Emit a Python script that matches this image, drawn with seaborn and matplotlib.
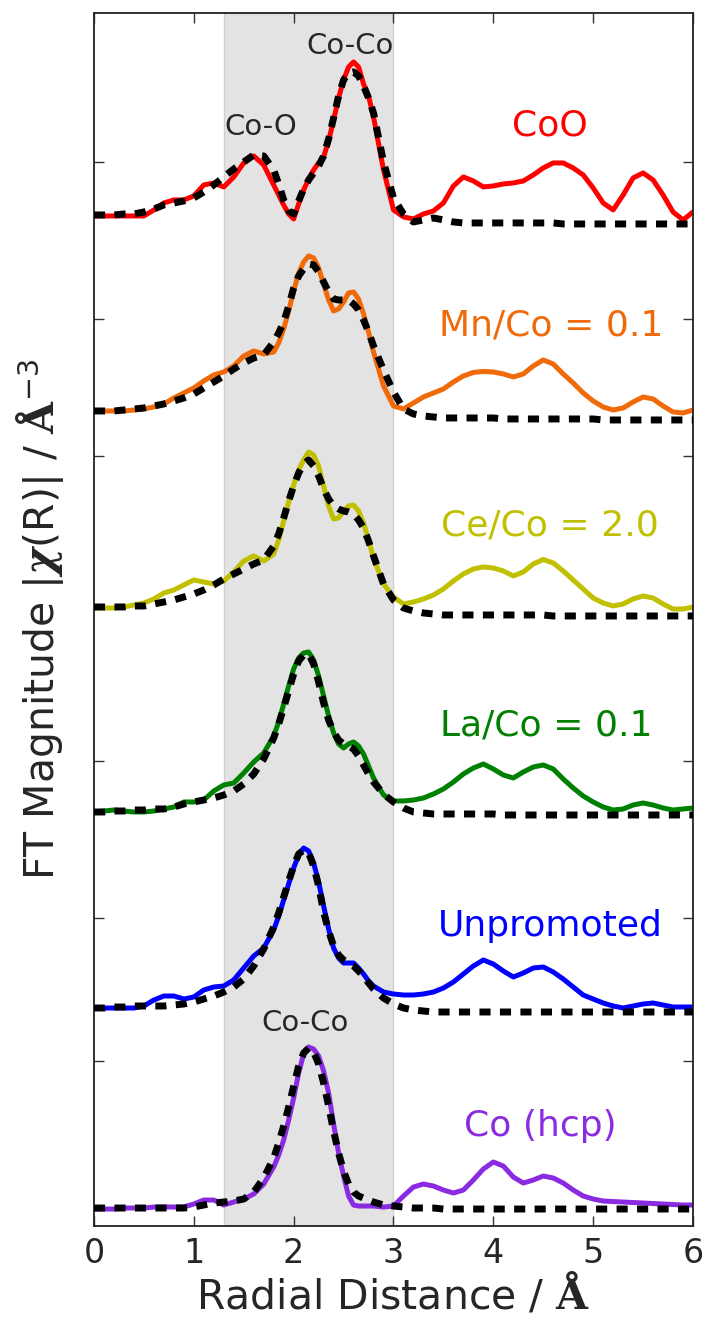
import numpy as np
import pandas as pd
import matplotlib
matplotlib.use("Agg")
import matplotlib.pyplot as plt
import seaborn as sns

# Radial distance grid (Å): coarse samples every 0.1 Å ...
r = np.round(np.arange(0, 61) * 0.1, 1)
# ... plus extra samples across the main shell peaks
r_mid = [1.85, 1.95, 2.05, 2.15, 2.25, 2.35, 2.45, 2.55, 2.65, 2.75]

# |chi(R)| magnitudes, 61 coarse samples (0.0 ... 6.0 Å) + 10 peak samples
coo = [0.10, 0.10, 0.10, 0.10, 0.10, 0.10,
       0.16, 0.23, 0.26, 0.26, 0.30,
       0.41, 0.43, 0.39, 0.49, 0.63,
       0.70, 0.61, 0.41, 0.21, 0.07,
       0.36, 0.56, 0.69, 1.06, 1.46,
       1.64, 1.42, 1.09, 0.56, 0.16,
       0.09, 0.07, 0.12, 0.15, 0.23,
       0.40, 0.49, 0.45, 0.39, 0.40,
       0.42, 0.43, 0.45, 0.51, 0.58,
       0.63, 0.63, 0.58, 0.51, 0.38,
       0.23, 0.16, 0.31, 0.48, 0.53,
       0.46, 0.31, 0.14, 0.06, 0.14]
coo_mid = [0.31, 0.12, 0.22, 0.47, 0.63, 0.85, 1.28, 1.59, 1.59, 1.30]
coo_fit = [0.11, 0.11, 0.11, 0.12, 0.12, 0.14,
           0.17, 0.21, 0.23, 0.25, 0.28,
           0.34, 0.41, 0.49, 0.57, 0.64,
           0.71, 0.70, 0.56, 0.26, 0.12,
           0.37, 0.53, 0.70, 1.08, 1.46,
           1.54, 1.40, 1.13, 0.64, 0.28,
           0.12, 0.04, 0.06, 0.08, 0.06,
           0.04, 0.03, 0.03, 0.03, 0.03,
           0.03, 0.03, 0.03, 0.03, 0.03,
           0.03, 0.02, 0.02, 0.02, 0.02,
           0.02, 0.02, 0.02, 0.02, 0.02,
           0.02, 0.02, 0.02, 0.02, 0.02]
coo_fit_mid = [0.42, 0.15, 0.25, 0.46, 0.60, 0.87, 1.30, 1.53, 1.50, 1.28]

mn = [0.15, 0.15, 0.15, 0.15, 0.16, 0.17,
      0.19, 0.22, 0.28, 0.33, 0.38,
      0.45, 0.51, 0.54, 0.60, 0.70,
      0.75, 0.72, 0.74, 0.97, 1.35,
      1.64, 1.68, 1.42, 1.15, 1.24,
      1.34, 1.12, 0.74, 0.40, 0.20,
      0.17, 0.23, 0.29, 0.33, 0.37,
      0.44, 0.50, 0.535, 0.545, 0.54,
      0.52, 0.49, 0.52, 0.60, 0.66,
      0.62, 0.52, 0.43, 0.33, 0.25,
      0.19, 0.16, 0.18, 0.24, 0.29,
      0.27, 0.20, 0.14, 0.13, 0.16]
mn_mid = [0.83, 1.15, 1.53, 1.70, 1.58, 1.26, 1.17, 1.33, 1.27, 0.94]
mn_fit = [0.15, 0.15, 0.15, 0.16, 0.17, 0.18,
          0.20, 0.22, 0.25, 0.28, 0.32,
          0.38, 0.44, 0.50, 0.57, 0.63,
          0.68, 0.71, 0.84, 1.04, 1.38,
          1.57, 1.61, 1.44, 1.27, 1.26,
          1.22, 1.06, 0.80, 0.56, 0.34,
          0.17, 0.12, 0.10, 0.09, 0.08,
          0.08, 0.08, 0.08, 0.08, 0.08,
          0.07, 0.07, 0.07, 0.07, 0.07,
          0.07, 0.07, 0.07, 0.07, 0.07,
          0.06, 0.06, 0.06, 0.06, 0.06,
          0.06, 0.06, 0.06, 0.06, 0.06]
mn_fit_mid = [0.93, 1.20, 1.50, 1.62, 1.54, 1.34, 1.26, 1.26, 1.16, 0.94]

ce = [0.18, 0.18, 0.18, 0.19, 0.21, 0.23,
      0.27, 0.33, 0.36, 0.41, 0.46,
      0.44, 0.42, 0.45, 0.54, 0.65,
      0.70, 0.65, 0.72, 1.05, 1.41,
      1.66, 1.71, 1.40, 1.07, 1.15,
      1.21, 1.03, 0.68, 0.42, 0.29,
      0.22, 0.24, 0.27, 0.31, 0.37,
      0.45, 0.52, 0.57, 0.59, 0.58,
      0.55, 0.50, 0.54, 0.62, 0.665,
      0.63, 0.55, 0.46, 0.37, 0.28,
      0.23, 0.20, 0.22, 0.27, 0.30,
      0.28, 0.22, 0.17, 0.17, 0.19]
ce_mid = [0.86, 1.24, 1.56, 1.74, 1.60, 1.20, 1.08, 1.20, 1.15, 0.86]
ce_fit = [0.19, 0.19, 0.19, 0.19, 0.20, 0.20,
          0.22, 0.24, 0.26, 0.29, 0.32,
          0.36, 0.41, 0.47, 0.52, 0.57,
          0.62, 0.66, 0.80, 1.08, 1.40,
          1.62, 1.60, 1.37, 1.20, 1.15,
          1.12, 0.98, 0.70, 0.42, 0.26,
          0.18, 0.15, 0.13, 0.12, 0.11,
          0.11, 0.11, 0.11, 0.11, 0.11,
          0.11, 0.11, 0.11, 0.11, 0.11,
          0.10, 0.10, 0.10, 0.10, 0.10,
          0.10, 0.10, 0.10, 0.10, 0.10,
          0.10, 0.10, 0.10, 0.10, 0.10]
ce_fit_mid = [0.92, 1.25, 1.53, 1.66, 1.50, 1.27, 1.17, 1.14, 1.06, 0.85]

la = [0.14, 0.15, 0.16, 0.15, 0.14, 0.14,
      0.15, 0.17, 0.19, 0.24, 0.24,
      0.26, 0.35, 0.41, 0.43, 0.53,
      0.64, 0.73, 0.90, 1.22, 1.57,
      1.73, 1.66, 1.30, 0.93, 0.78,
      0.84, 0.72, 0.48, 0.31, 0.25,
      0.25, 0.26, 0.28, 0.32, 0.37,
      0.44, 0.52, 0.58, 0.62, 0.57,
      0.51, 0.48, 0.54, 0.59, 0.61,
      0.57, 0.47, 0.38, 0.30, 0.24,
      0.19, 0.16, 0.17, 0.21, 0.23,
      0.21, 0.18, 0.16, 0.17, 0.18]
la_mid = [1.04, 1.40, 1.68, 1.74, 1.50, 1.10, 0.82, 0.82, 0.80, 0.60]
la_fit = [0.14, 0.14, 0.15, 0.15, 0.16, 0.16,
          0.17, 0.17, 0.19, 0.22, 0.24,
          0.26, 0.28, 0.31, 0.35, 0.42,
          0.52, 0.67, 0.88, 1.18, 1.52,
          1.71, 1.62, 1.23, 0.94, 0.82,
          0.77, 0.61, 0.44, 0.32, 0.24,
          0.18, 0.14, 0.13, 0.12, 0.12,
          0.12, 0.12, 0.12, 0.12, 0.12,
          0.11, 0.11, 0.11, 0.11, 0.11,
          0.11, 0.11, 0.11, 0.11, 0.11,
          0.11, 0.11, 0.11, 0.11, 0.11,
          0.11, 0.11, 0.11, 0.11, 0.11]
la_fit_mid = [1.02, 1.35, 1.65, 1.72, 1.44, 1.06, 0.86, 0.80, 0.70, 0.52]

unp = [0.18, 0.18, 0.18, 0.18, 0.18, 0.20,
       0.26, 0.30, 0.30, 0.27, 0.29,
       0.36, 0.39, 0.40, 0.46, 0.58,
       0.70, 0.78, 0.96, 1.26, 1.58,
       1.78, 1.63, 1.20, 0.78, 0.63,
       0.63, 0.52, 0.40, 0.34, 0.32,
       0.31, 0.31, 0.32, 0.34, 0.38,
       0.44, 0.52, 0.60, 0.66, 0.62,
       0.55, 0.49, 0.53, 0.58, 0.59,
       0.54, 0.47, 0.39, 0.31, 0.27,
       0.23, 0.20, 0.18, 0.20, 0.22,
       0.23, 0.21, 0.19, 0.19, 0.19]
unp_mid = [1.10, 1.42, 1.71, 1.75, 1.44, 0.97, 0.68, 0.63, 0.58, 0.45]
unp_fit = [0.18, 0.18, 0.19, 0.19, 0.20, 0.20,
           0.20, 0.20, 0.21, 0.22, 0.24,
           0.27, 0.30, 0.34, 0.39, 0.47,
           0.60, 0.77, 0.99, 1.29, 1.60,
           1.76, 1.60, 1.14, 0.80, 0.66,
           0.60, 0.50, 0.37, 0.28, 0.22,
           0.18, 0.16, 0.15, 0.14, 0.14,
           0.14, 0.14, 0.14, 0.14, 0.14,
           0.14, 0.14, 0.14, 0.14, 0.14,
           0.14, 0.14, 0.14, 0.14, 0.14,
           0.14, 0.14, 0.14, 0.14, 0.14,
           0.14, 0.14, 0.14, 0.14, 0.14]
unp_fit_mid = [1.13, 1.45, 1.72, 1.73, 1.40, 0.95, 0.71, 0.63, 0.55, 0.43]

hcp = [0.17, 0.17, 0.17, 0.18, 0.18, 0.18,
       0.19, 0.19, 0.19, 0.19, 0.22,
       0.26, 0.26, 0.21, 0.24, 0.27,
       0.32, 0.42, 0.59, 0.86, 1.28,
       1.72, 1.77, 1.55, 1.02, 0.50,
       0.21, 0.20, 0.20, 0.19, 0.20,
       0.30, 0.39, 0.42, 0.40, 0.36,
       0.33, 0.36, 0.46, 0.57, 0.64,
       0.60, 0.49, 0.43, 0.46, 0.50,
       0.48, 0.43, 0.36, 0.30, 0.27,
       0.25, 0.245, 0.24, 0.235, 0.23,
       0.225, 0.22, 0.215, 0.21, 0.21]
hcp_mid = [0.71, 1.06, 1.53, 1.79, 1.70, 1.33, 0.73, 0.30, 0.20, 0.20]
hcp_fit = [0.18, 0.18, 0.18, 0.18, 0.18, 0.18,
           0.18, 0.18, 0.18, 0.18, 0.19,
           0.21, 0.23, 0.24, 0.25, 0.27,
           0.34, 0.48, 0.68, 1.00, 1.40,
           1.73, 1.74, 1.43, 0.95, 0.55,
           0.34, 0.28, 0.24, 0.21, 0.20,
           0.19, 0.18, 0.18, 0.18, 0.17,
           0.17, 0.17, 0.17, 0.17, 0.17,
           0.17, 0.17, 0.17, 0.17, 0.17,
           0.17, 0.17, 0.17, 0.17, 0.17,
           0.17, 0.17, 0.17, 0.17, 0.17,
           0.17, 0.17, 0.17, 0.17, 0.17]
hcp_fit_mid = [0.83, 1.19, 1.60, 1.78, 1.62, 1.20, 0.73, 0.42, 0.30, 0.26]

names = ["CoO", "Mn/Co = 0.1", "Ce/Co = 2.0", "La/Co = 0.1", "Unpromoted", "Co (hcp)"]
colors = ["#ff0000", "#f06a0a", "#c0c000", "#008000", "#0000ff", "#8a2be2"]
offsets = [10, 8, 6, 4, 2, 0]
data = [(coo, coo_mid), (mn, mn_mid), (ce, ce_mid), (la, la_mid), (unp, unp_mid), (hcp, hcp_mid)]
fits = [(coo_fit, coo_fit_mid), (mn_fit, mn_fit_mid), (ce_fit, ce_fit_mid),
        (la_fit, la_fit_mid), (unp_fit, unp_fit_mid), (hcp_fit, hcp_fit_mid)]
label_x = [4.57, 4.58, 4.57, 4.53, 4.57, 4.47]

sns.set_style("ticks")
plt.rcParams["font.family"] = ["DejaVu Sans"]
plt.rcParams["mathtext.fontset"] = "dejavuserif"
plt.rcParams["xtick.direction"] = "in"
plt.rcParams["ytick.direction"] = "in"
plt.rcParams["xtick.top"] = True
plt.rcParams["ytick.right"] = True

fig = plt.figure(figsize=(7.05, 13.21), dpi=100)
ax = fig.add_axes([0.1333, 0.0719, 0.8497, 0.9183])

# shaded fitting window
ax.axvspan(1.3, 3.0, facecolor="#e3e3e3", edgecolor="#d0d0d0", lw=1, zorder=0)

r_all = np.concatenate([r, r_mid])
for name, col, off, (y, ym), (yf, yfm), lx in zip(names, colors, offsets, data, fits, label_x):
    df = pd.DataFrame({"R": r_all,
                       "exp": np.concatenate([y, ym]) + off,
                       "fit": np.concatenate([yf, yfm]) + off}).sort_values("R")
    sns.lineplot(data=df, x="R", y="exp", ax=ax, color=col, lw=3.6,
                 solid_joinstyle="round", zorder=2)
    sns.lineplot(data=df, x="R", y="fit", ax=ax, color="black", lw=5,
                 linestyle=(0, (1.6, 1.35)), zorder=3)
    ax.text(lx, off + 1.0, name, color=col, fontsize=26, ha="center", va="center")

ax.text(1.67, 10.99, "Co-O", fontsize=21, ha="center", va="center")
ax.text(2.56, 11.80, "Co-Co", fontsize=21, ha="center", va="center")
ax.text(2.11, 2.03, "Co-Co", fontsize=21, ha="center", va="center")

ax.set_xlim(0, 6)
ax.set_ylim(0, 12.13)
ax.set_xticks([0, 1, 2, 3, 4, 5, 6])
ax.set_yticks([1.65, 3.08, 4.65, 7.70, 9.07, 10.64])
ax.set_yticklabels([])
ax.tick_params(axis="both", length=7, width=1, color="#333333", labelsize=24, pad=8)
for sp in ax.spines.values():
    sp.set_linewidth(1.3)
    sp.set_color("#222222")

ax.set_xlabel(r"Radial Distance / $\mathbf{\AA}$", fontsize=29.5, labelpad=2)
ax.set_ylabel(r"FT Magnitude |$\boldsymbol{\chi}$(R)| / $\mathbf{\AA}^{\mathsf{-3}}$",
              fontsize=29.5, labelpad=12)

fig.savefig("out.png", dpi=100)
